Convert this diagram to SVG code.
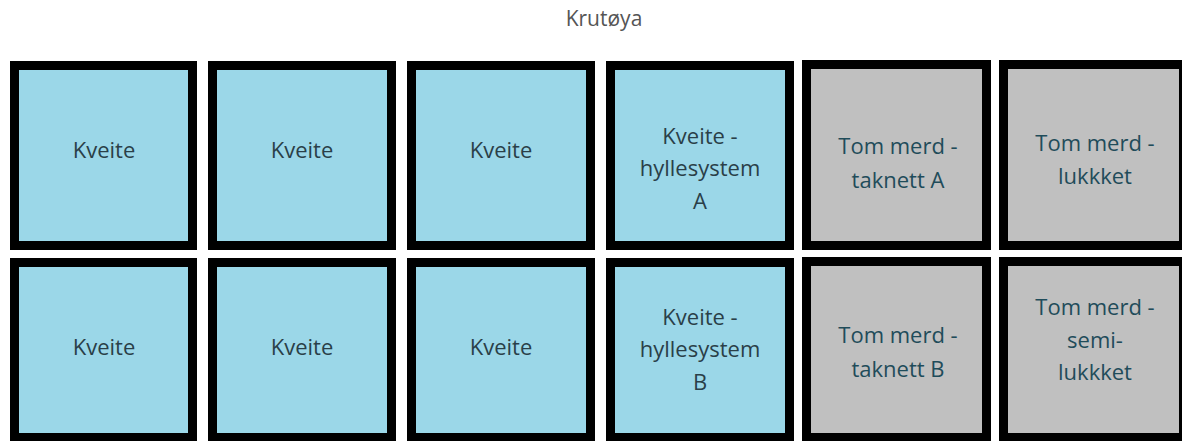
<svg xmlns="http://www.w3.org/2000/svg" width="1182" height="441" viewBox="0 0 1182 441">
  <style>
    .cage { stroke: #000; stroke-width: 9; }
    .fish { fill: #9bd7e8; }
    .empty { fill: #c0c0c0; }
    .lbl { font-family: "Open Sans", "Liberation Sans", sans-serif; font-size: 22px; text-anchor: middle; }
    .lbl-fish { fill: #2a3f48; }
    .lbl-empty { fill: #1f4c5a; }
    .title { font-family: "Open Sans", "Liberation Sans", sans-serif; font-size: 21px; fill: #555; text-anchor: middle; }
  </style>
  <rect width="1182" height="441" fill="#fff"/>
  <text class="title" x="604" y="26">Krutøya</text>

  <!-- upper row of pens -->
  <g id="pen-r1c1">
    <rect class="cage fish" x="14.5" y="65.5" width="178" height="180"/>
    <text class="lbl lbl-fish" x="104" y="158">Kveite</text>
  </g>
  <g id="pen-r1c2">
    <rect class="cage fish" x="212.5" y="65.5" width="179" height="180"/>
    <text class="lbl lbl-fish" x="302" y="158">Kveite</text>
  </g>
  <g id="pen-r1c3">
    <rect class="cage fish" x="411.5" y="65.5" width="179" height="180"/>
    <text class="lbl lbl-fish" x="501" y="158">Kveite</text>
  </g>
  <g id="pen-r1c4">
    <rect class="cage fish" x="610.5" y="65.5" width="179" height="180"/>
    <text class="lbl lbl-fish" x="700" y="144">Kveite -</text>
    <text class="lbl lbl-fish" x="700" y="176">hyllesystem</text>
    <text class="lbl lbl-fish" x="700" y="209">A</text>
  </g>
  <g id="pen-r1c5">
    <rect class="cage empty" x="806.5" y="64.5" width="180" height="181"/>
    <text class="lbl lbl-empty" x="898" y="154">Tom merd -</text>
    <text class="lbl lbl-empty" x="898" y="188">taknett A</text>
  </g>
  <g id="pen-r1c6">
    <rect class="cage empty" x="1003.5" y="64.5" width="180" height="181"/>
    <text class="lbl lbl-empty" x="1095" y="151">Tom merd -</text>
    <text class="lbl lbl-empty" x="1095" y="184">lukkket</text>
  </g>

  <!-- lower row of pens -->
  <g id="pen-r2c1">
    <rect class="cage fish" x="14.5" y="262.5" width="178" height="175"/>
    <text class="lbl lbl-fish" x="104" y="355">Kveite</text>
  </g>
  <g id="pen-r2c2">
    <rect class="cage fish" x="212.5" y="262.5" width="179" height="175"/>
    <text class="lbl lbl-fish" x="302" y="355">Kveite</text>
  </g>
  <g id="pen-r2c3">
    <rect class="cage fish" x="411.5" y="262.5" width="179" height="175"/>
    <text class="lbl lbl-fish" x="501" y="355">Kveite</text>
  </g>
  <g id="pen-r2c4">
    <rect class="cage fish" x="610.5" y="262.5" width="179" height="175"/>
    <text class="lbl lbl-fish" x="700" y="325">Kveite -</text>
    <text class="lbl lbl-fish" x="700" y="357">hyllesystem</text>
    <text class="lbl lbl-fish" x="700" y="390">B</text>
  </g>
  <g id="pen-r2c5">
    <rect class="cage empty" x="806.5" y="261.5" width="180" height="176"/>
    <text class="lbl lbl-empty" x="898" y="343">Tom merd -</text>
    <text class="lbl lbl-empty" x="898" y="377">taknett B</text>
  </g>
  <g id="pen-r2c6">
    <rect class="cage empty" x="1003.5" y="261.5" width="180" height="176"/>
    <text class="lbl lbl-empty" x="1095" y="315">Tom merd -</text>
    <text class="lbl lbl-empty" x="1095" y="348">semi-</text>
    <text class="lbl lbl-empty" x="1095" y="380">lukkket</text>
  </g>
</svg>
